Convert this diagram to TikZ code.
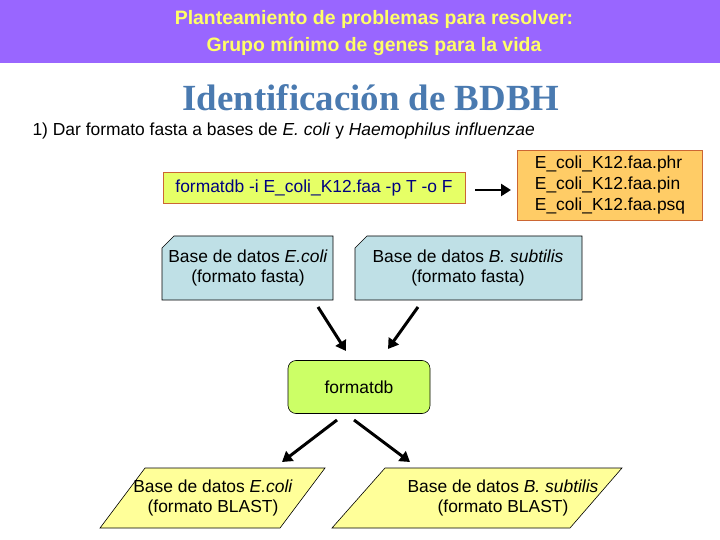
\documentclass[tikz,border=0pt]{standalone}
\usepackage{fontspec}
\setmainfont{Liberation Sans}
\newfontfamily\headfont{Liberation Serif}
\usetikzlibrary{arrows.meta}
\definecolor{headbg}{HTML}{9966FF}
\definecolor{headtxt}{HTML}{FFFF66}
\definecolor{cmdfill}{HTML}{E6FF66}
\definecolor{cmdline}{HTML}{CC6633}
\definecolor{filefill}{HTML}{FFCC66}
\definecolor{cardfill}{HTML}{BFE0E6}
\definecolor{procfill}{HTML}{CCFF66}
\definecolor{blastfill}{HTML}{FFFF99}
\definecolor{titleblue}{HTML}{4A7AB0}
\begin{document}
\begin{tikzpicture}[x=1bp,y=-1bp,
	txt/.style={font=\fontsize{17.5}{21}\selectfont, align=center},
	card/.style={draw, fill=cardfill, line width=0.6pt},
	blast/.style={draw, fill=blastfill, line width=0.6pt},
	flow/.style={-{Triangle[length=10bp,width=12bp]}, line width=3pt}]
	\useasboundingbox (0,0) rectangle (720,540);
	\fill [headbg] (0,0) rectangle (720,63);
	\node (head) [font=\fontsize{19.5}{28}\selectfont\bfseries, text=headtxt, align=center] at (374,33)
		{Planteamiento de problemas para resolver:\\Grupo mínimo de genes para la vida};
	\node (ident) [font=\fontsize{37}{37}\selectfont\headfont\bfseries, text=titleblue] at (371,98) {Identificación de BDBH};
	\node (step) [font=\fontsize{17.5}{21}\selectfont, anchor=west] at (29,131)
		{1) Dar formato fasta a bases de \textit{E. coli} y \textit{Haemophilus influenzae}};
	\node (cmd) [draw=cmdline, fill=cmdfill, line width=0.8pt, txt, text=blue!50!black,
		minimum width=302bp, minimum height=31bp, inner xsep=2pt] at (314,188) {formatdb -i E\_coli\_K12.faa -p T -o F};
	\node (files) [draw=cmdline, fill=filefill, line width=0.8pt, txt, align=left, inner xsep=2pt,
		minimum width=185bp, minimum height=70bp] at (610,185)
		{E\_coli\_K12.faa.phr\\E\_coli\_K12.faa.pin\\E\_coli\_K12.faa.psq};
	\coordinate (a0) at (475,190);
	\coordinate (a1) at (511,190);
	\draw [flow] (a0) -- (a1);
	% cut-corner cards
	\draw [card] (162,248) -- (174,236) -- (333,236) -- (333,300) -- (162,300) -- cycle;
	\node (ecoli) [txt] at (248,268) {Base de datos \textit{E.coli}\\(formato fasta)};
	\draw [card] (355,248) -- (367,236) -- (582,236) -- (582,300) -- (355,300) -- cycle;
	\node (bsub) [txt] at (468,268) {Base de datos \textit{B. subtilis}\\(formato fasta)};
	\node (fdb) [draw, fill=procfill, rounded corners=8bp, line width=0.6pt, txt,
		minimum width=142bp, minimum height=53bp] at (359,387) {formatdb};
	% BLAST parallelograms
	\draw [blast] (100,528) -- (145,468) -- (325,468) -- (280,528) -- cycle;
	\node (bec) [txt] at (213,498) {Base de datos \textit{E.coli}\\(formato BLAST)};
	\draw [blast] (332,528) -- (385,468) -- (622,468) -- (570,528) -- cycle;
	\node (bbs) [txt] at (503,498) {Base de datos \textit{B. subtilis}\\(formato BLAST)};
	\draw [flow] (318,307) -- (346,351);
	\draw [flow] (418,307) -- (388,349);
	\draw [flow] (337,420) -- (282,462);
	\draw [flow] (354,420) -- (410,462);
\end{tikzpicture}
\end{document}
